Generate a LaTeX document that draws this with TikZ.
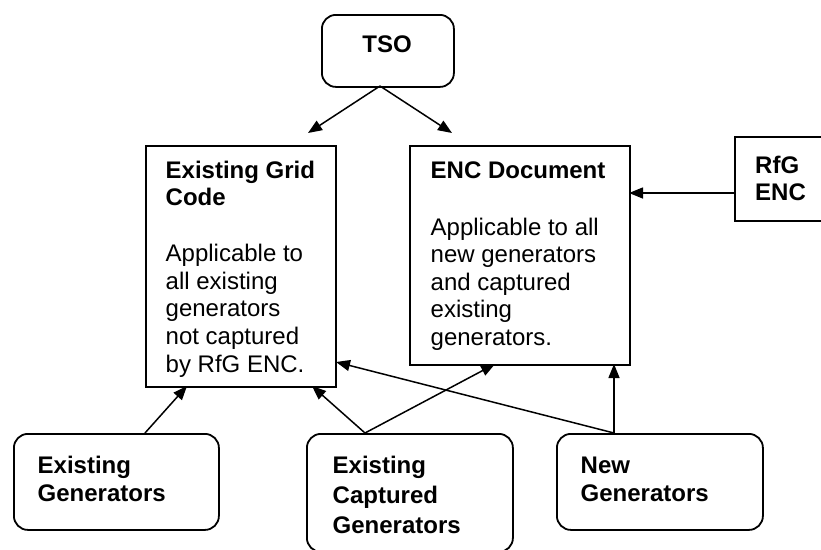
\documentclass[tikz,border=0pt]{standalone}
\usepackage{fontspec}
\setmainfont{Liberation Sans}
\usetikzlibrary{arrows.meta}
\tikzset{
  frame/.style={draw=black, line width=1.8pt, inner sep=0pt, anchor=north west},
  roundframe/.style={frame, rounded corners=14pt},
  label/.style={inner sep=0pt, anchor=base west, align=left, font=\fontsize{24}{27.6}\selectfont},
  heading/.style={label, font=\fontsize{24}{27.6}\selectfont\bfseries},
  link/.style={line width=1.5pt, -{Triangle[length=14pt,width=11pt]}},
}
\begin{document}
\begin{tikzpicture}[x=1pt, y=-1pt]
\useasboundingbox (0,0) rectangle (821,549);
\clip (0,0) rectangle (821,549);
\fill[white] (0,0) rectangle (821,549);

% boxes
\node[roundframe, minimum width=132pt, minimum height=72pt] (tso) at (321,14) {};
\node[frame, minimum width=190pt, minimum height=241pt] (gc) at (145,145) {};
\node[frame, minimum width=220pt, minimum height=219pt] (enc) at (409,145) {};
\node[frame, minimum width=110pt, minimum height=84pt] (rfg) at (734,136) {};
\node[roundframe, minimum width=205pt, minimum height=96pt] (exg) at (13,433) {};
\node[roundframe, minimum width=206pt, minimum height=118pt] (cap) at (306,433) {};
\node[roundframe, minimum width=206pt, minimum height=96pt] (newg) at (556,433) {};

% texts (each placed at the baseline of its last line)
\node[heading, anchor=base] (tsot) at (387,52.7) {TSO};
\node[heading] (gch) at (165.5,205.9) {Existing Grid\\Code};
\node[label] (gcb) at (165.5,372) {Applicable to\\all existing\\generators\\not captured\\by RfG ENC.};
\node[heading] (ench) at (430.5,178.3) {ENC Document};
\node[label] (encb) at (430.5,345.4) {Applicable to all\\new generators\\and captured\\existing\\generators.};
\node[heading] (rfgt) at (755,200.6) {RfG\\ENC};
\node[heading] (exgt) at (37.5,501) {Existing\\Generators};
\node[heading, font=\fontsize{24}{30}\selectfont\bfseries] (capt) at (332.5,533) {Existing\\Captured\\Generators};
\node[heading] (newt) at (580.5,501) {New\\Generators};

% connector ends
\coordinate (tsoS) at (380,86);
\coordinate (gcIn) at (308,133);
\coordinate (encIn) at (452,133);
\coordinate (rfgS) at (734,193);
\coordinate (encR) at (629,193);
\coordinate (exgS) at (145,433);
\coordinate (gcB1) at (187,386);
\coordinate (capS) at (365,433);
\coordinate (gcB2) at (312,386);
\coordinate (encB1) at (495,364);
\coordinate (newS) at (614,433);
\coordinate (gcR) at (336,362);
\coordinate (encB2) at (614,364);

% connectors
\draw[link] (tsoS) -- (gcIn);
\draw[link] (tsoS) -- (encIn);
\draw[link] (rfgS) -- (encR);
\draw[link] (exgS) -- (gcB1);
\draw[link] (capS) -- (gcB2);
\draw[link] (capS) -- (encB1);
\draw[link] (newS) -- (gcR);
\draw[link] (newS) -- (encB2);
\end{tikzpicture}
\end{document}
